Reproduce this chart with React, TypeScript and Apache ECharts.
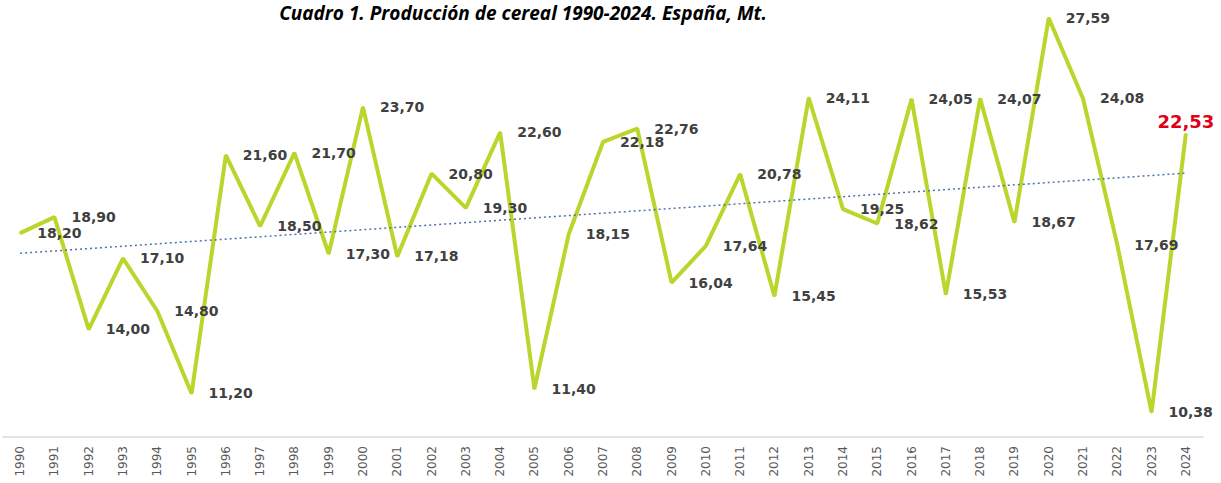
import React, { useEffect, useRef } from "react";
import * as echarts from "echarts";

const years = [
  "1990", "1991", "1992", "1993", "1994", "1995", "1996", "1997", "1998", "1999",
  "2000", "2001", "2002", "2003", "2004", "2005", "2006", "2007", "2008", "2009",
  "2010", "2011", "2012", "2013", "2014", "2015", "2016", "2017", "2018", "2019",
  "2020", "2021", "2022", "2023", "2024",
];

const production = [
  18.2, 18.9, 14.0, 17.1, 14.8, 11.2, 21.6, 18.5, 21.7, 17.3,
  23.7, 17.18, 20.8, 19.3, 22.6, 11.4, 18.15, 22.18, 22.76, 16.04,
  17.64, 20.78, 15.45, 24.11, 19.25, 18.62, 24.05, 15.53, 24.07, 18.67,
  27.59, 24.08, 17.69, 10.38, 22.53,
];

// trend line endpoints (1990, 2024)
const trendEnds = [17.32, 20.82];

const title = "Cuadro 1. Producción de cereal 1990-2024. España, Mt.";

const fmt = (v: number) => v.toFixed(2).replace(".", ",");

export default function App() {
  const ref = useRef<HTMLDivElement>(null);
  useEffect(() => {
    if (!ref.current) return;
    const chart = echarts.init(ref.current, null, { renderer: "svg" });
    const last = production.length - 1;
    const data = production.map((v, i) =>
      i === last
        ? {
            value: v,
            label: {
              position: "top",
              distance: 2,
              offset: [0, 0],
              color: "#e00016",
              fontSize: 18,
            },
          }
        : v
    );
    chart.setOption({
      animation: false,
      backgroundColor: "#ffffff",
      grid: { left: 3, right: 18, top: 10, bottom: 46, containLabel: false },
      graphic: [
        {
          type: "text",
          x: 523,
          y: 13,
          style: {
            text: title,
            align: "center",
            verticalAlign: "middle",
            font: "italic bold 19px 'Open Sans', sans-serif",
            fill: "#000000",
          },
        },
      ],
      xAxis: {
        type: "category",
        data: years,
        boundaryGap: true,
        axisLine: { show: true, lineStyle: { color: "#d9d9d9", width: 1.5 } },
        axisTick: { show: false },
        axisLabel: {
          rotate: 90,
          margin: 9,
          interval: 0,
          color: "#595959",
          fontSize: 12,
          fontFamily: "'DejaVu Sans', sans-serif",
        },
        splitLine: { show: false },
      },
      yAxis: {
        type: "value",
        min: 9.3,
        max: 27.94,
        show: false,
        splitLine: { show: false },
      },
      series: [
        {
          type: "line",
          data,
          symbol: "circle",
          symbolSize: 2,
          showSymbol: true,
          showAllSymbol: true,
          lineStyle: { color: "#bbd52c", width: 4 },
          itemStyle: { color: "#bbd52c" },
          labelLayout: { hideOverlap: false },
          label: {
            show: true,
            position: "right",
            distance: 16,
            opacity: 1,
            formatter: (p: any) => fmt(p.value),
            color: "#404040",
            fontSize: 14,
            fontWeight: "bold",
            fontFamily: "'DejaVu Sans', sans-serif",
          },
          markLine: {
            silent: true,
            symbol: "none",
            label: { show: false },
            lineStyle: { color: "#4f73a8", width: 1.5, type: [2, 3] },
            data: [
              [
                { coord: [years[0], trendEnds[0]] },
                { coord: [years[last], trendEnds[1]] },
              ],
            ],
          },
          z: 3,
        },
      ],
    });
    return () => chart.dispose();
  }, []);
  return (
    <div
      ref={ref}
      style={{ position: "absolute", left: 0, top: 0, width: 1221, height: 483 }}
    />
  );
}
